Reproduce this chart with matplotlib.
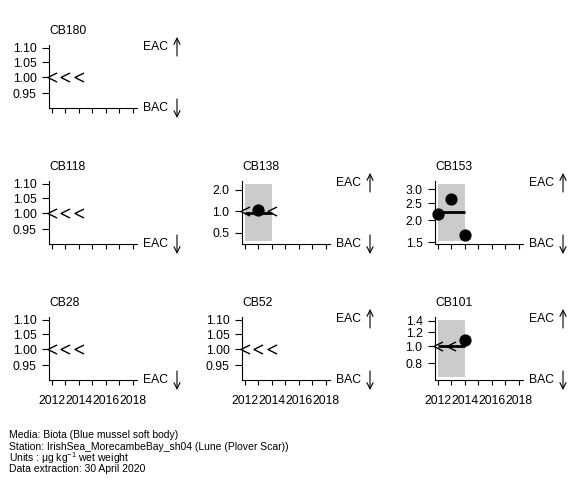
import matplotlib
matplotlib.use("Agg")
import matplotlib.pyplot as plt
from matplotlib.path import Path
from matplotlib.ticker import NullLocator

plt.rcParams['font.family'] = ['Liberation Sans', 'DejaVu Sans']
plt.rcParams['mathtext.fontset'] = 'custom'
plt.rcParams['mathtext.rm'] = 'Liberation Sans'
plt.rcParams['mathtext.default'] = 'regular'

# panels, in reading order
names = ['CB180', 'CB118', 'CB138', 'CB153', 'CB28', 'CB52', 'CB101']
grid_row = [0, 1, 1, 1, 2, 2, 2]
grid_col = [0, 0, 1, 2, 0, 1, 2]

# less-than values
lt_years = {'CB180': [2012, 2013, 2014], 'CB118': [2012, 2013, 2014],
            'CB138': [2012, 2014], 'CB153': [],
            'CB28': [2012, 2013, 2014], 'CB52': [2012, 2013, 2014],
            'CB101': [2012, 2013]}
lt_values = {'CB180': [1.0, 1.0, 1.0], 'CB118': [1.0, 1.0, 1.0],
             'CB138': [1.0, 1.0], 'CB153': [],
             'CB28': [1.0, 1.0, 1.0], 'CB52': [1.0, 1.0, 1.0],
             'CB101': [1.0, 1.0]}
# measured values
det_years = {'CB138': [2013], 'CB153': [2012, 2013, 2014], 'CB101': [2014]}
det_values = {'CB138': [1.06], 'CB153': [2.18, 2.63, 1.65], 'CB101': [1.08]}
# fitted mean over the assessment period
mean_level = {'CB138': 0.96, 'CB153': 2.23, 'CB101': 1.0}
period = [2012, 2014]

# y ticks
empty_ticks = [0.95, 1.00, 1.05, 1.10]
empty_labels = ['0.95', '1.00', '1.05', '1.10']
yticks = {'CB138': [0.5, 1.0, 2.0], 'CB153': [1.5, 2.0, 2.5, 3.0],
          'CB101': [0.8, 1.0, 1.2, 1.4]}
ytick_labels = {'CB138': ['0.5', '1.0', '2.0'],
                'CB153': ['1.5', '2.0', '2.5', '3.0'],
                'CB101': ['0.8', '1.0', '1.2', '1.4']}
ylims = {'CB138': (0.35, 2.67), 'CB153': (1.47, 3.33), 'CB101': (0.64, 1.47)}
empty_ylim = (0.905, 1.11)

# x ticks
xtick_years = [2012, 2013, 2014, 2015, 2016, 2017, 2018]
xtick_labels = ['2012', '', '2014', '', '2016', '', '2018']

# assessment criteria labels: above (top) and below (bottom)
top_label = {'CB180': 'EAC', 'CB118': None, 'CB138': 'EAC', 'CB153': 'EAC',
             'CB28': None, 'CB52': 'EAC', 'CB101': 'EAC'}
bottom_label = {'CB180': 'BAC', 'CB118': 'EAC', 'CB138': 'BAC', 'CB153': 'BAC',
                'CB28': 'EAC', 'CB52': 'BAC', 'CB101': 'BAC'}

footer = ['Media: Biota (Blue mussel soft body)',
          'Station: IrishSea_MorecambeBay_sh04 (Lune (Plover Scar))',
          r'Units : $\mu$g kg$^{-1}$ wet weight',
          'Data extraction: 30 April 2020']

W, H = 580, 480
col_left = [49, 242, 435]
row_bottom = [108, 244, 380]
aw, ah = 88, 63
fs = 8.7

lt_marker = Path([(1, 1), (-1, 0), (1, -1)],
                 [Path.MOVETO, Path.LINETO, Path.LINETO])

fig = plt.figure(figsize=(W / 100, H / 100), dpi=100)

for i, name in enumerate(names):
    r, c = grid_row[i], grid_col[i]
    ax = fig.add_axes([col_left[c] / W, 1 - row_bottom[r] / H, aw / W, ah / H])
    ax.set_yscale('log')
    for s in ['top', 'right']:
        ax.spines[s].set_visible(False)
    for s in ['left', 'bottom']:
        ax.spines[s].set_linewidth(0.8)
    ax.set_xlim(2011.78, 2018.3)

    if name in det_years:
        ax.axvspan(period[0], period[1], ymin=0.04, ymax=0.96,
                   color='#cbcbcb', lw=0, zorder=0)
        ax.plot(period, [mean_level[name]] * 2, color='black', lw=2,
                solid_capstyle='butt', zorder=2)
        ax.plot(det_years[name], det_values[name], 'o', color='black',
                ms=7.8, zorder=3, clip_on=False)
        ax.set_ylim(*ylims[name])
        ax.set_yticks(yticks[name])
        ax.set_yticklabels(ytick_labels[name])
    else:
        ax.set_ylim(*empty_ylim)
        ax.set_yticks(empty_ticks)
        ax.set_yticklabels(empty_labels)
    ax.yaxis.set_minor_locator(NullLocator())

    if lt_years[name]:
        ax.plot(lt_years[name], lt_values[name], linestyle='none',
                marker=lt_marker, ms=6.5, mfc='none', mec='black', mew=1.0,
                zorder=4, clip_on=False)

    ax.set_xticks(xtick_years)
    if r == 2:
        ax.set_xticklabels(xtick_labels)
    else:
        ax.set_xticklabels([''] * len(xtick_years))
    ax.tick_params(axis='y', direction='out', length=5, width=0.8,
                   pad=4.0, labelsize=fs)
    ax.tick_params(axis='x', direction='out', length=3.5, width=0.8,
                   pad=7.0, labelsize=fs)

    ax.text(0, 1 + 14.5 / ah, name, transform=ax.transAxes,
            ha='left', va='center', fontsize=fs)

    ax_x = 94 / aw
    arr_x = 128 / aw
    arrow = dict(arrowstyle='->', lw=0.8, color='black',
                 shrinkA=0, shrinkB=0, mutation_scale=11)
    if top_label[name]:
        yl = 1 - 2 / ah
        ax.text(ax_x, yl, top_label[name], transform=ax.transAxes,
                ha='left', va='center', fontsize=fs)
        ax.annotate('', xy=(arr_x, yl + 10 / ah), xytext=(arr_x, yl - 9 / ah),
                    xycoords='axes fraction', annotation_clip=False,
                    arrowprops=arrow)
    if bottom_label[name]:
        yl = 0.0
        ax.text(ax_x, yl, bottom_label[name], transform=ax.transAxes,
                ha='left', va='center', fontsize=fs)
        ax.annotate('', xy=(arr_x, yl - 10 / ah), xytext=(arr_x, yl + 9 / ah),
                    xycoords='axes fraction', annotation_clip=False,
                    arrowprops=arrow)

for k, line in enumerate(footer):
    fig.text(9 / W, 1 - (435 + 11.5 * k) / H, line, ha='left', va='center',
             fontsize=7.5)

fig.savefig('out.png', dpi=100)
